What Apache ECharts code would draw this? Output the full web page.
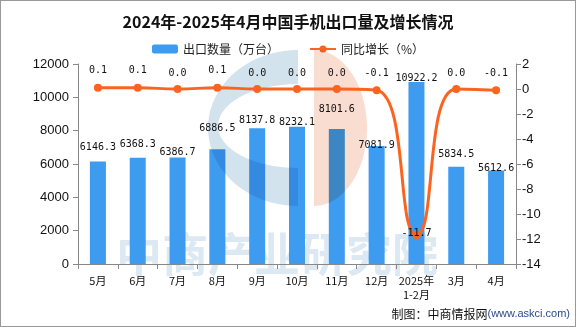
<!DOCTYPE html>
<html><head><meta charset="utf-8">
<script src="https://cdn.jsdelivr.net/npm/echarts@6/dist/echarts.min.js"></script>
<style>html,body{margin:0;padding:0;background:#fff}#c{width:576px;height:327px;box-sizing:border-box;border:1px solid #999}</style>
</head><body><div id="c"></div>
<script>
const categories = ['5月','6月','7月','8月','9月','10月','11月','12月','2025年\n1-2月','3月','4月'];
const exportVolume = [6146.3, 6368.3, 6386.7, 6886.5, 8137.8, 8232.1, 8101.6, 7081.9, 10922.2, 5834.5, 5612.6];
const yoyGrowth = [0.1, 0.1, 0.0, 0.1, 0.0, 0.0, 0.0, -0.1, -11.7, 0.0, -0.1];
const leftTicks = {min: 0, max: 12000, interval: 2000};
const rightTicks = {min: -14, max: 2, interval: 2};
// label nudges (px above the mark) as placed in the reference
const barLabelLift = [15, 14, 6, 22, 9, 5, 21, 2, 5, 13, 3];
const lineLabelLift = [18, 18, 17, 18, 17, 17, 17, 18, 3, 17, 18];

// background logo outline (decoration only)
function halfEllipse(cx, cy, rx, ry, left, reverse) {
  const pts = [];
  for (let k = 0; k <= 40; k++) {
    const t = -Math.PI / 2 + Math.PI * k / 40;
    pts.push([cx + (left ? -1 : 1) * rx * Math.cos(t), cy + ry * Math.sin(t)]);
  }
  return reverse ? pts.reverse() : pts;
}
const crescent = halfEllipse(297, 127, 90, 78, true, false).concat(halfEllipse(297, 125, 80, 42, true, true));
const halfDisc = halfEllipse(313, 127, 53, 78, false, false);

const chart = echarts.init(document.getElementById('c'));
const F = '"Noto Sans CJK SC", sans-serif';
const MONO = '"DejaVu Sans Mono", monospace';
chart.setOption({
  animation: false,
  title: {text: '2024年-2025年4月中国手机出口量及增长情况', left: 'center', top: 8,
    textStyle: {fontSize: 16, fontWeight: 'bold', color: '#111', fontFamily: F}},
  legend: {top: 37, left: 'center', itemGap: 30, itemWidth: 26, itemHeight: 9,
    textStyle: {fontSize: 12, color: '#222', fontFamily: F},
    data: [{name: '出口数量（万台）'}, {name: '同比增长（%）'}]},
  graphic: {elements: [
    {type: 'text', z: -10, left: 115, top: 230, style: {text: '中商产业研究院', fontSize: 46, fontWeight: 'bold', fill: '#dde9f2', fontFamily: F}, silent: true},
    {type: 'polygon', z: 5, shape: {points: crescent}, style: {fill: '#d2e3ee', blend: 'multiply'}, silent: true},
    {type: 'polygon', z: 5, shape: {points: halfDisc}, style: {fill: '#f9ddd0', blend: 'multiply'}, silent: true},
    {type: 'text', right: 5, bottom: 6, style: {rich: {a: {fontSize: 12, fill: '#111', fontFamily: F}, b: {fontSize: 11, fill: '#2b4c8a', fontFamily: 'Arial'}}, text: '{a|制图：中商情报网}{b|(www.askci.com)}'}}
  ]},
  grid: {left: 77, right: 59, top: 63, bottom: 62},
  xAxis: {type: 'category', data: categories,
    axisLine: {lineStyle: {color: '#888'}},
    axisTick: {show: true, length: 5, lineStyle: {color: '#888'}},
    axisLabel: {color: '#111', fontSize: 11, fontFamily: F, margin: 10, interval: 0, lineHeight: 14}},
  yAxis: [
    {type: 'value', min: leftTicks.min, max: leftTicks.max, interval: leftTicks.interval,
      splitLine: {show: false}, axisLine: {show: true, lineStyle: {color: '#888'}},
      axisTick: {show: true, length: 5, lineStyle: {color: '#888'}},
      axisLabel: {color: '#111', fontSize: 13, fontFamily: 'Arial', margin: 9, formatter: v => String(v)}},
    {type: 'value', min: rightTicks.min, max: rightTicks.max, interval: rightTicks.interval,
      splitLine: {show: false}, axisLine: {show: true, lineStyle: {color: '#888'}},
      axisTick: {show: true, length: 5, lineStyle: {color: '#888'}},
      axisLabel: {color: '#111', fontSize: 13, fontFamily: 'Arial', margin: 6, formatter: v => String(v)}}
  ],
  series: [
    {name: '出口数量（万台）', type: 'bar', z: 2, barWidth: 16,
      data: exportVolume.map((v, i) => ({value: v, label: {offset: [0, -(barLabelLift[i] - 6)]}})),
      itemStyle: {color: '#3d9bf0'},
      label: {show: true, position: 'top', distance: 0, color: '#111', fontSize: 10, fontFamily: MONO, formatter: p => p.value.toFixed(1)}},
    {name: '同比增长（%）', type: 'line', yAxisIndex: 1, smooth: true, z: 8,
      data: yoyGrowth.map((v, i) => ({value: v, label: {offset: [0, -(lineLabelLift[i] - 10)]}})),
      symbol: 'circle', symbolSize: 8,
      itemStyle: {color: '#fb6420'}, lineStyle: {color: '#fb6420', width: 3},
      label: {show: true, position: 'top', distance: 0, color: '#111', fontSize: 10, fontFamily: MONO, formatter: p => p.value.toFixed(1)}}
  ]
});
</script></body></html>
